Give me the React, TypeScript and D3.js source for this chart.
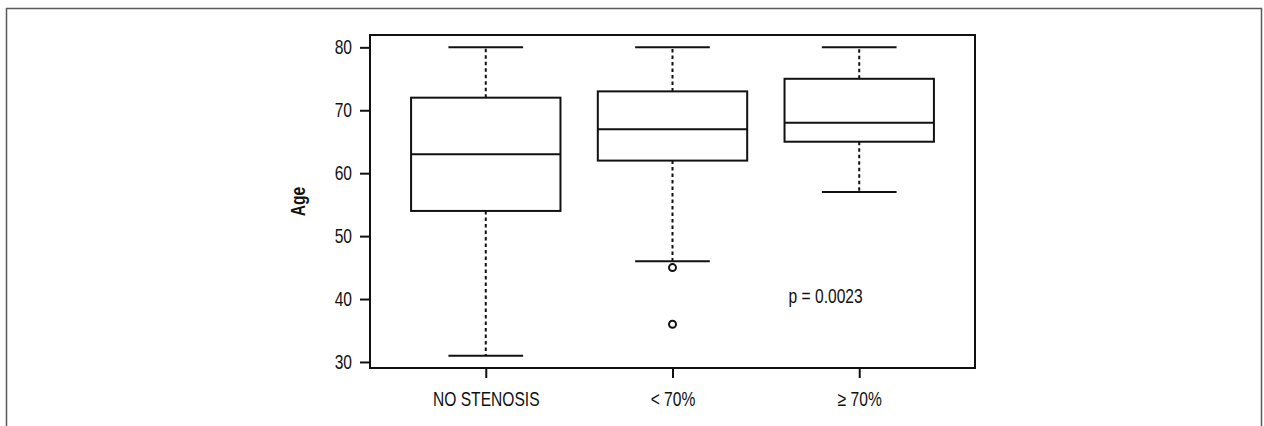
import React, { useRef, useEffect } from 'react';
import * as d3 from 'd3';

const categories = ['NO STENOSIS', '< 70%', '≥ 70%'];
const lowerWhisker = [31, 46, 57];
const q1 = [54, 62, 65];
const median = [63, 67, 68];
const q3 = [72, 73, 75];
const upperWhisker = [80, 80, 80];
const outliers: number[][] = [[], [45, 36], []];
const yTicks = [30, 40, 50, 60, 70, 80];
const pLabel = 'p = 0.0023';

const FONT = "'Liberation Sans', Arial, sans-serif";
// the original uses a narrow face; squeeze Liberation Sans to narrow widths
const NARROW = 0.78;
const FS = 20;

const App: React.FC = () => {
  const ref = useRef<SVGSVGElement | null>(null);

  useEffect(() => {
    if (!ref.current) return;
    document.body.style.margin = '0';
    const svg = d3.select(ref.current);
    svg.selectAll('*').remove();

    const left = 370;
    const right = 975;
    const top = 35;
    const bottom = 368;

    // R style axes: 4% padding around the data range
    const x = d3.scaleLinear().domain([0.38, 3.62]).range([left, right]);
    const y = d3.scaleLinear().domain([29.04, 81.96]).range([bottom, top]);
    const unit = x(1) - x(0);

    // outer panel border
    svg
      .append('path')
      .attr('d', 'M6.5,440 V8.5 H1261.5 V440')
      .attr('fill', 'none')
      .attr('stroke', '#5a5a5a')
      .attr('stroke-width', 1.5);

    const g = svg.append('g').attr('font-family', FONT);

    // boxes
    const boxes = g
      .selectAll('g.box')
      .data(categories)
      .enter()
      .append('g')
      .attr('class', 'box');

    boxes
      .append('line')
      .attr('x1', (_, i) => x(i + 1))
      .attr('x2', (_, i) => x(i + 1))
      .attr('y1', (_, i) => y(q3[i]))
      .attr('y2', (_, i) => y(upperWhisker[i]))
      .attr('stroke', '#111')
      .attr('stroke-width', 2)
      .attr('stroke-dasharray', '3.5,3');
    boxes
      .append('line')
      .attr('x1', (_, i) => x(i + 1))
      .attr('x2', (_, i) => x(i + 1))
      .attr('y1', (_, i) => y(q1[i]))
      .attr('y2', (_, i) => y(lowerWhisker[i]))
      .attr('stroke', '#111')
      .attr('stroke-width', 2)
      .attr('stroke-dasharray', '3.5,3');

    [upperWhisker, lowerWhisker].forEach((vals) => {
      boxes
        .append('line')
        .attr('x1', (_, i) => x(i + 1 - 0.2))
        .attr('x2', (_, i) => x(i + 1 + 0.2))
        .attr('y1', (_, i) => y(vals[i]))
        .attr('y2', (_, i) => y(vals[i]))
        .attr('stroke', '#111')
        .attr('stroke-width', 2);
    });

    boxes
      .append('rect')
      .attr('x', (_, i) => x(i + 1 - 0.4))
      .attr('width', unit * 0.8)
      .attr('y', (_, i) => y(q3[i]))
      .attr('height', (_, i) => y(q1[i]) - y(q3[i]))
      .attr('fill', '#fff')
      .attr('stroke', '#111')
      .attr('stroke-width', 2);

    boxes
      .append('line')
      .attr('x1', (_, i) => x(i + 1 - 0.4))
      .attr('x2', (_, i) => x(i + 1 + 0.4))
      .attr('y1', (_, i) => y(median[i]))
      .attr('y2', (_, i) => y(median[i]))
      .attr('stroke', '#111')
      .attr('stroke-width', 2);

    // outliers
    const pts = outliers.flatMap((vals, i) => vals.map((v) => ({ i, v })));
    g.selectAll('circle')
      .data(pts)
      .enter()
      .append('circle')
      .attr('cx', (d) => x(d.i + 1))
      .attr('cy', (d) => y(d.v))
      .attr('r', 3.5)
      .attr('fill', '#fff')
      .attr('stroke', '#111')
      .attr('stroke-width', 2);

    // plot frame
    g.append('rect')
      .attr('x', left)
      .attr('y', top)
      .attr('width', right - left)
      .attr('height', bottom - top)
      .attr('fill', 'none')
      .attr('stroke', '#111')
      .attr('stroke-width', 2);

    // y axis
    const yAxis = g
      .append('g')
      .attr('transform', `translate(${left},0)`)
      .call(d3.axisLeft(y).tickValues(yTicks).tickSize(10).tickPadding(8));
    yAxis.select('.domain').remove();
    yAxis.selectAll('line').attr('stroke', '#111').attr('stroke-width', 2);
    yAxis
      .selectAll('text')
      .attr('font-family', FONT)
      .attr('font-size', FS)
      .attr('fill', '#111')
      .attr('x', 0)
      .attr('transform', `translate(-18,0) scale(${NARROW},1)`);

    // x axis
    const xAxis = g
      .append('g')
      .attr('transform', `translate(0,${bottom})`)
      .call(
        d3
          .axisBottom(x)
          .tickValues([1, 2, 3])
          .tickFormat((d) => categories[(d as number) - 1])
          .tickSize(10)
          .tickPadding(14)
      );
    xAxis.select('.domain').remove();
    xAxis.selectAll('line').attr('stroke', '#111').attr('stroke-width', 2);
    xAxis
      .selectAll('text')
      .attr('font-family', FONT)
      .attr('font-size', FS)
      .attr('fill', '#111')
      .attr('transform', `scale(${NARROW},1)`);

    // y title
    g.append('text')
      .attr('transform', `translate(${left - 65},${(top + bottom) / 2}) rotate(-90) scale(${NARROW},1)`)
      .attr('text-anchor', 'middle')
      .attr('font-size', FS)
      .attr('font-weight', 'bold')
      .attr('fill', '#111')
      .text('Age');

    // p value
    g.append('text')
      .attr('transform', `translate(${x(2.82)},${y(40.5)}) scale(${NARROW},1)`)
      .attr('dy', '0.35em')
      .attr('text-anchor', 'middle')
      .attr('font-size', FS)
      .attr('fill', '#111')
      .text(pLabel);
  }, []);

  return <svg ref={ref} width={1264} height={426} style={{ display: 'block' }} />;
};

export default App;
